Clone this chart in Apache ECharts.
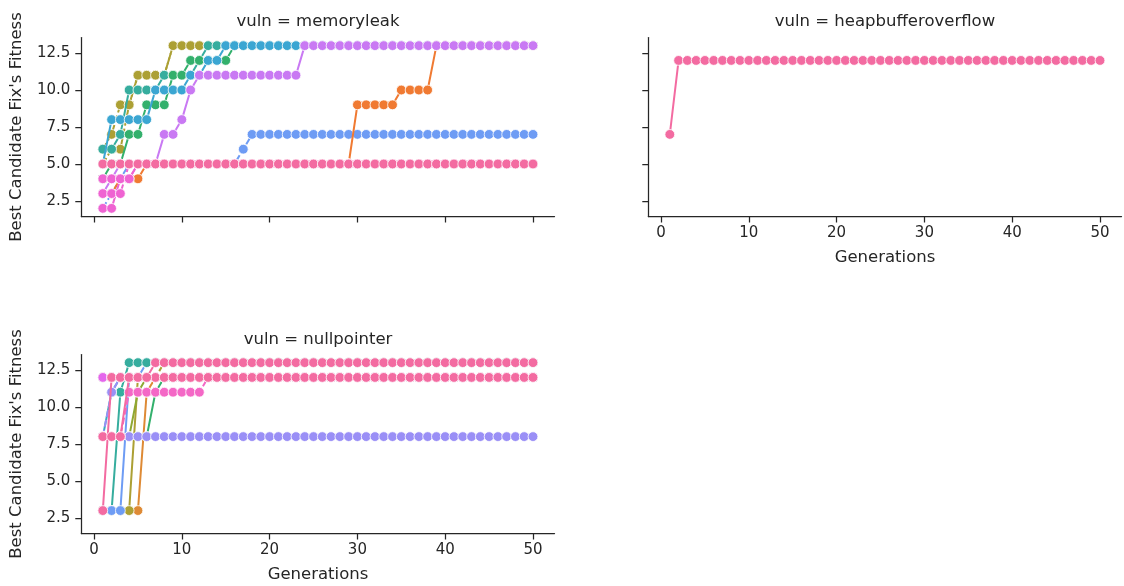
<!DOCTYPE html>
<html>
<head>
<meta charset="utf-8">
<script src="https://cdn.jsdelivr.net/npm/echarts@6/dist/echarts.min.js"></script>
<style>
  html, body { margin: 0; padding: 0; background: #ffffff; }
  #chart { width: 1124px; height: 586px; }
</style>
</head>
<body>
<div id="chart"></div>
<script>
// Generation numbers shared by every run
const generations = [1,2,3,4,5,6,7,8,9,10,11,12,13,14,15,16,17,18,19,20,21,22,23,24,25,26,27,28,29,30,31,32,33,34,35,36,37,38,39,40,41,42,43,44,45,46,47,48,49,50];

// Axis tick values
const xTickValues = [0, 10, 20, 30, 40, 50];
const yTickValues = [2.5, 5, 7.5, 10, 12.5];

// Panel names
const vulnNames = ['memoryleak', 'heapbufferoverflow', 'nullpointer'];

// ---- memoryleak runs: best fitness per generation ----
const mlOlive      = [6,7,9,9,11,11,11,11,13,13,13,13,13,13,13,13,13,13,13,13,13,13,13,13,13,13,13,13,13,13,13,13,13,13,13,13,13,13,13,13,13,13,13,13,13,13,13,13,13,13];
const mlOlive2     = [5,6,6,9,11,11,11,11,13,13,13,13,13,13,13,13,13,13,13,13,13,13,13,13,13,13,13,13,13,13,13,13,13,13,13,13,13,13,13,13,13,13,13,13,13,13,13,13,13,13];
const mlTeal       = [6,6,7,10,10,10,10,11,11,11,11,12,13,13,13,13,13,13,13,13,13,13,13,13,13,13,13,13,13,13,13,13,13,13,13,13,13,13,13,13,13,13,13,13,13,13,13,13,13,13];
const mlGreen      = [4,5,5,7,7,9,9,9,11,11,12,12,12,12,12,13,13,13,13,13,13,13,13,13,13,13,13,13,13,13,13,13,13,13,13,13,13,13,13,13,13,13,13,13,13,13,13,13,13,13];
const mlBlue       = [5,8,8,8,8,8,10,10,10,10,11,11,12,12,13,13,13,13,13,13,13,13,13,13,13,13,13,13,13,13,13,13,13,13,13,13,13,13,13,13,13,13,13,13,13,13,13,13,13,13];
const mlPeriwinkle = [2,3,4,5,5,5,5,5,5,5,5,5,5,5,5,5,6,7,7,7,7,7,7,7,7,7,7,7,7,7,7,7,7,7,7,7,7,7,7,7,7,7,7,7,7,7,7,7,7,7];
const mlOrange     = [3,3,4,4,4,5,5,5,5,5,5,5,5,5,5,5,5,5,5,5,5,5,5,5,5,5,5,5,5,9,9,9,9,9,10,10,10,10,13,13,13,13,13,13,13,13,13,13,13,13];
const mlPurple     = [3,4,5,5,5,5,5,7,7,8,10,11,11,11,11,11,11,11,11,11,11,11,11,13,13,13,13,13,13,13,13,13,13,13,13,13,13,13,13,13,13,13,13,13,13,13,13,13,13,13];
const mlMagentaA   = [2,2,4,4,5,5,5,5,5,5,5,5,5,5,5,5,5,5,5,5,5,5,5,5,5,5,5,5,5,5,5,5,5,5,5,5,5,5,5,5,5,5,5,5,5,5,5,5,5,5];
const mlMagentaB   = [3,3,3,5,5,5,5,5,5,5,5,5,5,5,5,5,5,5,5,5,5,5,5,5,5,5,5,5,5,5,5,5,5,5,5,5,5,5,5,5,5,5,5,5,5,5,5,5,5,5];
const mlMagentaC   = [4,4,4,4,5,5,5,5,5,5,5,5,5,5,5,5,5,5,5,5,5,5,5,5,5,5,5,5,5,5,5,5,5,5,5,5,5,5,5,5,5,5,5,5,5,5,5,5,5,5];
const mlPink       = [5,5,5,5,5,5,5,5,5,5,5,5,5,5,5,5,5,5,5,5,5,5,5,5,5,5,5,5,5,5,5,5,5,5,5,5,5,5,5,5,5,5,5,5,5,5,5,5,5,5];

// ---- heapbufferoverflow run ----
const hbPink       = [7,12,12,12,12,12,12,12,12,12,12,12,12,12,12,12,12,12,12,12,12,12,12,12,12,12,12,12,12,12,12,12,12,12,12,12,12,12,12,12,12,12,12,12,12,12,12,12,12,12];

// ---- nullpointer runs ----
const npBlueDash    = [12,12,12,12,12,13,13,13,13,13,13,13,13,13,13,13,13,13,13,13,13,13,13,13,13,13,13,13,13,13,13,13,13,13,13,13,13,13,13,13,13,13,13,13,13,13,13,13,13,13];
const npOliveDash   = [12,12,12,12,12,12,12,13,13,13,13,13,13,13,13,13,13,13,13,13,13,13,13,13,13,13,13,13,13,13,13,13,13,13,13,13,13,13,13,13,13,13,13,13,13,13,13,13,13,13];
const npTeal        = [3,3,11,13,13,13,13,13,13,13,13,13,13,13,13,13,13,13,13,13,13,13,13,13,13,13,13,13,13,13,13,13,13,13,13,13,13,13,13,13,13,13,13,13,13,13,13,13,13,13];
const npCyan        = [8,11,12,12,12,12,12,12,12,12,12,12,12,12,12,12,12,12,12,12,12,12,12,12,12,12,12,12,12,12,12,12,12,12,12,12,12,12,12,12,12,12,12,12,12,12,12,12,12,12];
const npOrange      = [3,3,3,3,3,11,12,12,12,12,12,12,12,12,12,12,12,12,12,12,12,12,12,12,12,12,12,12,12,12,12,12,12,12,12,12,12,12,12,12,12,12,12,12,12,12,12,12,12,12];
const npOlive       = [3,3,3,3,12,12,12,12,12,12,12,12,12,12,12,12,12,12,12,12,12,12,12,12,12,12,12,12,12,12,12,12,12,12,12,12,12,12,12,12,12,12,12,12,12,12,12,12,12,12];
const npBlue        = [3,3,3,12,12,12,12,12,12,12,12,12,12,12,12,12,12,12,12,12,12,12,12,12,12,12,12,12,12,12,12,12,12,12,12,12,12,12,12,12,12,12,12,12,12,12,12,12,12,12];
const npGreen       = [8,8,8,8,8,8,11,12,12,12,12,12,12,12,12,12,12,12,12,12,12,12,12,12,12,12,12,12,12,12,12,12,12,12,12,12,12,12,12,12,12,12,12,12,12,12,12,12,12,12];
const npYellowGreen = [8,8,8,8,11,12,12,12,12,12,12,12,12,12,12,12,12,12,12,12,12,12,12,12,12,12,12,12,12,12,12,12,12,12,12,12,12,12,12,12,12,12,12,12,12,12,12,12,12,12];
const npLavenderA   = [8,11,12,12,12,12,12,12,12,12,12,12,12,12,12,12,12,12,12,12,12,12,12,12,12,12,12,12,12,12,12,12,12,12,12,12,12,12,12,12,12,12,12,12,12,12,12,12,12,12];
const npLavenderB   = [8,8,8,8,8,8,8,8,8,8,8,8,8,8,8,8,8,8,8,8,8,8,8,8,8,8,8,8,8,8,8,8,8,8,8,8,8,8,8,8,8,8,8,8,8,8,8,8,8,8];
const npMagenta     = [12,12,12,12,12,12,12,12,12,12,12,12,12,12,12,12,12,12,12,12,12,12,12,12,12,12,12,12,12,12,12,12,12,12,12,12,12,12,12,12,12,12,12,12,12,12,12,12,12,12];
const npMagentaPink = [8,8,8,11,11,11,11,11,11,11,11,11,12,12,12,12,12,12,12,12,12,12,12,12,12,12,12,12,12,12,12,12,12,12,12,12,12,12,12,12,12,12,12,12,12,12,12,12,12,12];
const npPinkA       = [3,12,12,12,12,12,12,12,12,12,12,12,12,12,12,12,12,12,12,12,12,12,12,12,12,12,12,12,12,12,12,12,12,12,12,12,12,12,12,12,12,12,12,12,12,12,12,12,12,12];
const npPinkB       = [8,8,8,12,12,12,13,13,13,13,13,13,13,13,13,13,13,13,13,13,13,13,13,13,13,13,13,13,13,13,13,13,13,13,13,13,13,13,13,13,13,13,13,13,13,13,13,13,13,13];

// Run colours
const C = {
  olive: '#aca034', teal: '#36ad9e', green: '#33b06c', cyan: '#3ba6d2',
  periwinkle: '#6e9cf4', orange: '#f07a32', purple: '#c979f3',
  magenta: '#ef63d2', pink: '#f36ba1', lavender: '#9a8ff6',
  violet: '#e466ec', magentaPink: '#f468c6', yellowGreen: '#8ea832',
  amber: '#de8a35', tealCyan: '#38aabf'
};

// Draw order per panel: [values, colour, dashed]
const panels = [
  [
    [mlOlive, C.olive, true], [mlOlive2, C.olive, true], [mlTeal, C.teal, false],
    [mlGreen, C.green, false], [mlBlue, C.cyan, false], [mlPeriwinkle, C.periwinkle, true],
    [mlOrange, C.orange, false], [mlPurple, C.purple, false],
    [mlMagentaA, C.magenta, false], [mlMagentaB, C.magenta, true], [mlMagentaC, C.magenta, true],
    [mlPink, C.pink, false]
  ],
  [
    [hbPink, C.pink, false]
  ],
  [
    [npBlueDash, C.periwinkle, true], [npOliveDash, C.olive, true],
    [npTeal, C.teal, false], [npCyan, C.tealCyan, false],
    [npOrange, C.amber, false], [npOlive, C.olive, false], [npBlue, C.periwinkle, false],
    [npGreen, C.green, false], [npYellowGreen, C.yellowGreen, false],
    [npLavenderA, C.lavender, true], [npLavenderB, C.lavender, false],
    [npMagenta, C.violet, false], [npMagentaPink, C.magentaPink, true],
    [npPinkA, C.pink, false], [npPinkB, C.pink, false]
  ]
];

const FONT = 'DejaVu Sans';
const INK = '#262626';

// Panel boxes in pixels
const gridBoxes = [
  { left: 81.3, top: 37.5, width: 473.2, height: 179 },
  { left: 648.3, top: 37.5, width: 473.2, height: 179 },
  { left: 81.3, top: 354.5, width: 473.2, height: 179 }
];
const showXLabels = [false, true, true];
const showYLabels = [true, false, true];

const grid = gridBoxes.map(b => Object.assign({ containLabel: false }, b));

const xAxis = gridBoxes.map((b, i) => ({
  type: 'value', gridIndex: i, min: -1.45, max: 52.45,
  axisLine: { show: true, onZero: false, lineStyle: { color: INK, width: 1.25 } },
  axisTick: { show: true, length: 6, customValues: xTickValues, lineStyle: { color: INK, width: 1.25 } },
  axisLabel: { show: showXLabels[i], customValues: xTickValues, margin: 9, color: INK, fontFamily: FONT, fontSize: 15 },
  splitLine: { show: false }
}));

const yAxis = gridBoxes.map((b, i) => ({
  type: 'value', gridIndex: i, min: 1.45, max: 13.55,
  axisLine: { show: true, onZero: false, lineStyle: { color: INK, width: 1.25 } },
  axisTick: { show: true, length: 6, customValues: yTickValues, lineStyle: { color: INK, width: 1.25 } },
  axisLabel: { show: showYLabels[i], customValues: yTickValues, margin: 11, color: INK, fontFamily: FONT, fontSize: 15,
    formatter: v => Number(v).toFixed(1) },
  splitLine: { show: false }
}));

const series = [];
panels.forEach((runs, p) => {
  runs.forEach(([values, color, dashed], k) => {
    series.push({
      type: 'line', xAxisIndex: p, yAxisIndex: p,
      data: values.map((v, i) => [generations[i], v]),
      symbol: 'circle', symbolSize: 9.8, showSymbol: true,
      itemStyle: { color: color, borderColor: '#ffffff', borderWidth: 0.8 },
      lineStyle: { color: color, width: 2, type: dashed ? [7, 3] : 'solid' },
      emphasis: { disabled: true },
      silent: true, clip: false,
      z: 2 + k * 0.01
    });
  });
});

const titleText = (text, x, y) => ({
  type: 'text', x: x, y: y,
  style: { text: text, fill: INK, font: '16.5px "' + FONT + '"', textAlign: 'center', textVerticalAlign: 'middle' }
});

const graphic = [
  titleText('vuln = ' + vulnNames[0], 318, 22),
  titleText('vuln = ' + vulnNames[1], 885, 22),
  titleText('vuln = ' + vulnNames[2], 318, 340),
  titleText('Generations', 885, 258),
  titleText('Generations', 318, 575),
  Object.assign(titleText("Best Candidate Fix's Fitness", 17, 127), { rotation: Math.PI / 2 }),
  Object.assign(titleText("Best Candidate Fix's Fitness", 17, 444), { rotation: Math.PI / 2 })
];

const chart = echarts.init(document.getElementById('chart'), null, { renderer: 'canvas' });
chart.setOption({
  backgroundColor: '#ffffff',
  animation: false,
  grid: grid, xAxis: xAxis, yAxis: yAxis,
  series: series,
  graphic: graphic
});
</script>
</body>
</html>
